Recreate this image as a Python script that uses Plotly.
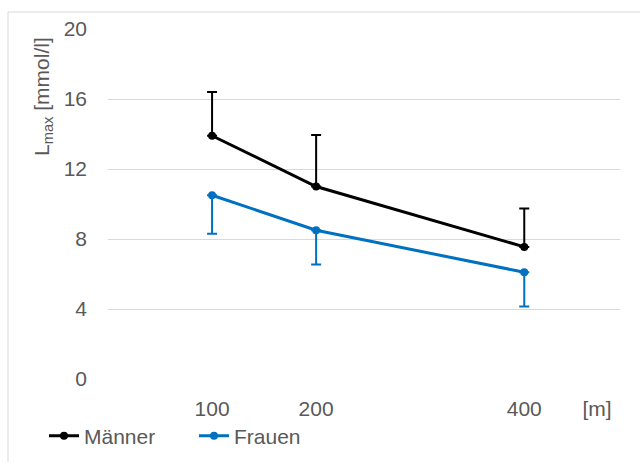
import plotly.graph_objects as go

distances = [100, 200, 400]
maenner = [13.9, 11.0, 7.55]
maenner_err = [2.5, 2.95, 2.2]
frauen = [10.5, 8.5, 6.1]
frauen_err = [2.2, 1.95, 1.95]
y_ticks = [0, 4, 8, 12, 16, 20]

font_fam = "Liberation Sans, Arial, sans-serif"
gray = "#595959"

W, H = 640, 462
ML, MR, MT, MB = 0, 20, 29, 0
PW, PH = W - ML - MR, H - MT - MB


def px(x):
    return (x - ML) / PW


def py(y):
    return (H - MB - y) / PH


fig = go.Figure()
fig.add_trace(go.Scatter(
    x=distances, y=maenner, name="Männer", mode="lines+markers",
    line=dict(color="#000000", width=3), marker=dict(size=8, color="#000000"),
    error_y=dict(type="data", array=maenner_err, arrayminus=[0, 0, 0], symmetric=False,
                 color="#000000", thickness=2, width=5),
))
fig.add_trace(go.Scatter(
    x=distances, y=frauen, name="Frauen", mode="lines+markers",
    line=dict(color="#0070C0", width=3), marker=dict(size=8, color="#0070C0"),
    error_y=dict(type="data", array=[0, 0, 0], arrayminus=frauen_err, symmetric=False,
                 color="#0070C0", thickness=2, width=5),
))

fig.update_layout(
    width=W, height=H,
    margin=dict(l=ML, r=MR, t=MT, b=MB),
    paper_bgcolor="white", plot_bgcolor="white",
    font=dict(family=font_fam, color=gray, size=21),
    showlegend=True,
    legend=dict(orientation="h", x=px(44), xanchor="left", y=py(436), yanchor="middle",
                font=dict(size=21, color=gray), bgcolor="rgba(0,0,0,0)",
                itemwidth=30, tracegroupgap=0, entrywidth=105),
    xaxis=dict(domain=[px(108), 1], range=[0, 492], tickvals=distances + [470],
               ticktext=[str(d) for d in distances] + ["[m]"],
               showgrid=False, zeroline=False, showline=False, ticks="",
               tickfont=dict(size=21, color=gray), ticklabelstandoff=15, automargin=False),
    yaxis=dict(domain=[py(379), 1], range=[0, 20], tickvals=y_ticks, showgrid=True,
               gridcolor="#d9d9d9", gridwidth=1, zeroline=False, showline=False, ticks="",
               tickfont=dict(size=21, color=gray), ticklabelstandoff=20, automargin=False),
    annotations=[dict(text="L<sub>max</sub> [mmol/l]", textangle=-90,
                      x=px(43), y=py(97), xref="paper", yref="paper",
                      xanchor="center", yanchor="middle", showarrow=False,
                      font=dict(size=21, color=gray))],
    shapes=[
        dict(type="line", xref="paper", yref="paper", x0=px(8), x1=px(660), y0=py(12), y1=py(12),
             line=dict(color="#d9d9d9", width=1)),
        dict(type="line", xref="paper", yref="paper", x0=px(8), x1=px(8), y0=py(12), y1=py(480),
             line=dict(color="#d9d9d9", width=1)),
    ],
)

fig.write_html("out.html")
